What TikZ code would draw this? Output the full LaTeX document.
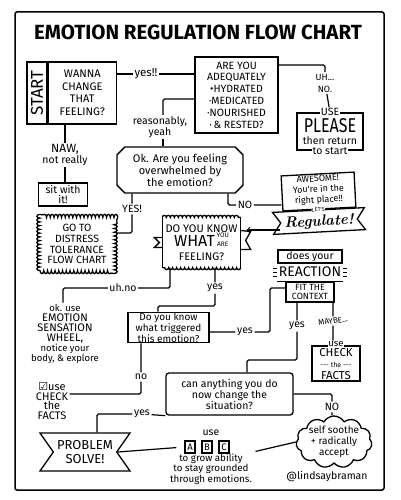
\documentclass[tikz,border=0pt]{standalone}
\usepackage{fontspec}
\newfontfamily\hand{Fira Sans}
\newfontfamily\symfont{DejaVu Sans}
\usetikzlibrary{shapes.misc,shapes.symbols,decorations.pathmorphing}

\begin{document}
\begin{tikzpicture}[x=1pt,y=-1pt,
    box/.style={draw, line width=1.3pt, align=center, inner sep=0.5pt,
      font=\hand\fontsize{10.5}{11.5}\selectfont},
    lbl/.style={inner sep=1.5pt, align=center, font=\hand\fontsize{10.5}{10.5}\selectfont},
    conn/.style={line width=1.2pt, rounded corners=1.5pt},
    scallop/.style={line width=1.3pt, decorate, decoration={bumps, segment length=8pt, amplitude=2pt}},
    puffy/.style={box, cloud, cloud ignores aspect, cloud puffs=11, cloud puff arc=120},
    banner/.style={box, signal, signal from=west and east, signal to=nowhere,
      signal pointer angle=110}]
    \useasboundingbox (0,0) rectangle (400,500);
    \draw[line width=1.5pt, rounded corners=2pt] (15,12) rectangle (384,490);
    \node[font=\hand\bfseries\fontsize{20.5}{20.5}\selectfont] (title) at (198,32) {EMOTION REGULATION FLOW CHART};

    % start
    \node[box, minimum width=20pt, minimum height=62pt, font=\hand\fontsize{17}{17}\selectfont] (start) at (37,93) {\rotatebox{90}{START}};
    \node[box, minimum width=68pt, minimum height=62pt, anchor=west, font=\hand\fontsize{11}{12.5}\selectfont] (wanna) at (start.east) {WANNA\\CHANGE\\THAT\\FEELING?};
    \node[lbl, font=\hand\fontsize{11.5}{11}\selectfont] (yes1) at (146,74) {yes!!};
    \node[box, minimum width=83pt, minimum height=76pt, font=\hand\fontsize{10.5}{11.8}\selectfont] (adeq) at (236.5,95) {ARE YOU\\ADEQUATELY\\•HYDRATED\\·MEDICATED\\·NOURISHED\\·\,\& RESTED?};
    \draw[conn] (wanna.east |- yes1) -- (yes1) -- (yes1 -| adeq.west);

    % uh no
    \node[lbl, font=\hand\fontsize{9}{12}\selectfont] (uhno) at (325,83) {UH...\\NO.};
    \coordinate (c1) at (325,65);
    \draw[conn] (adeq.east |- c1) -- (c1) -- (uhno);
    \node[box, minimum width=66pt, minimum height=37pt, inner sep=0pt] (please) at (330,131.5) {\scalebox{0.8}[1]{\fontsize{20}{20}\selectfont PLEASE}\\then return};
    \node[lbl, fill=white, inner sep=1pt] (use1) at (please.north) {USE};
    \node[lbl, fill=white, inner sep=1pt] (tostart) at (please.south) {to start};
    \draw[conn] (uhno) -- (use1);

    % reasonably
    \node[lbl] (reason) at (160,127) {reasonably,\\yeah};
    \node[box, chamfered rectangle, chamfered rectangle xsep=5pt, minimum width=126pt, minimum height=46pt, font=\hand\fontsize{11}{12}\selectfont] (ok) at (180,170) {Ok. Are you feeling\\overwhelmed by\\the emotion?};
    \coordinate (c2) at (163,99);
    \draw[conn] (adeq.west |- c2) -- (c2) -- (c2 |- reason.north);
    \draw[conn] (c2 |- reason.south) -- (c2 |- ok.north);

    % naw
    \node[lbl] (naw) at (65,155) {{\fontsize{12}{12}\selectfont NAW,}\\not really};
    \node[box, minimum width=49pt, minimum height=23pt, font=\hand\fontsize{10.5}{10}\selectfont] (sit) at (63,194.5) {sit with\\it!};
    \draw[conn] (wanna.south -| naw) -- (naw) -- (naw |- sit.north);

    % yes -> distress
    \node[lbl] (yes2) at (132,209) {YES!};
    \node[box, draw=none, minimum width=73pt, minimum height=52pt, inner sep=0pt, font=\hand\fontsize{10.5}{10.8}\selectfont] (distress) at (77,244) {GO TO\\DISTRESS\\TOLERANCE\\FLOW CHART};
    \draw[scallop, decoration={segment length=7.5pt, amplitude=3pt}] (distress.south west) -- (distress.north west) -- (distress.north east) -- (distress.south east) -- cycle;
    \coordinate (c3) at (132,233);
    \draw[conn] (ok.south -| yes2) -- (yes2) -- (c3) -- ([xshift=3pt]c3 -| distress.east);

    % no -> awesome
    \node[lbl] (no1) at (245,205) {NO};
    \node[box, rotate=3, minimum width=73pt, minimum height=35pt, text depth=5pt, font=\hand\fontsize{9}{10.5}\selectfont] (awesome) at (318.5,191.5) {AWESOME!\\You're in the\\right place!!};
    \node[banner, rotate=3, minimum width=92pt, minimum height=22pt, text height=13pt, font=\rmfamily\itshape\bfseries\fontsize{15}{15}\selectfont] (regulate) at (319,221) {Regulate!};
    \node[lbl, rotate=3, fill=white, inner sep=0.3pt, font=\hand\fontsize{5.5}{5.5}\selectfont] (lets) at ([yshift=-0.5pt]regulate.north) {LET'S};
    \coordinate (c4) at (228,205);
    \draw[conn] (ok.south -| c4) -- (c4) -- (no1) -- (no1 -| awesome.west);

    % what
    \node[box, draw=none, minimum width=77pt, minimum height=49pt, font=\hand\fontsize{11}{14}\selectfont] (what) at (201.5,242.5) {DO YOU KNOW\\{\fontsize{16}{16}\selectfont WHAT}\,{\fontsize{6.5}{6.5}\selectfont\shortstack{YOU\\[1pt]ARE}}\\FEELING?};
    \draw[line width=1.3pt] (what.north west) -- (what.south west) (what.north east) -- (what.south east);
    \draw[scallop] (what.north west) -- (what.north east);
    \draw[scallop] (what.south east) -- (what.south west);
    \draw[line width=1.3pt] ([yshift=5pt]what.west) -- ++(-8,0) -- ++(5,5) -- ++(-5,5) -- ++(8,0);
    \draw[line width=1.3pt] ([yshift=12pt]what.east) -- ++(10,1) -- ++(-5,9) -- ++(5,9) -- ++(-10,0);
    \coordinate (wflag) at ([xshift=6pt]what.east);
    \draw[conn, ->] ([yshift=-7pt]regulate.west) -- ([yshift=-7pt]regulate.west -| wflag);

    % uh no -> wheel
    \node[lbl] (uhno2) at (123,288) {uh.no};
    \node[lbl, font=\hand\fontsize{9.5}{10}\selectfont] (wheel) at (65,334) {ok. use\\{\fontsize{11}{10}\selectfont EMOTION}\\{\fontsize{11}{10}\selectfont SENSATION}\\{\fontsize{11}{10}\selectfont WHEEL,}\\notice your\\body, \& explore};
    \coordinate (c5) at (170,288);
    \coordinate (c6) at (63,288);
    \draw[conn] (what.south -| c5) -- (c5) -- (uhno2) -- (c6) -- (c6 |- wheel.north);

    % yes -> triggered
    \node[lbl] (yes3) at (215,288) {yes};
    \node[box, minimum width=81pt, minimum height=29pt, font=\hand\fontsize{10}{9.8}\selectfont] (trig) at (168.5,327.5) {Do you know\\what triggered\\this emotion?};
    \coordinate (c7) at (215,306);
    \coordinate (c8) at (158,306);
    \draw[conn] (what.south -| yes3) -- (yes3) -- (c7) -- (c8) -- (c8 |- trig.north);

    % reaction
    \node[box, minimum width=64pt, minimum height=13pt, inner sep=0pt] (does) at (310,256.5) {does your};
    \node[lbl, minimum width=66pt, minimum height=18pt, inner sep=0pt, font=\hand\fontsize{14}{14}\selectfont] (reaction) at (310,272) {REACTION};
    \draw[line width=1.3pt] (reaction.south west) -- (reaction.south east);
    \foreach \dy in {-4,0,4} {
        \draw[line width=0.8pt] ([yshift=\dy pt]reaction.west) -- ++(-4,0);
        \draw[line width=0.8pt] ([yshift=\dy pt]reaction.east) -- ++(4,0);
    }
    \node[box, minimum width=48pt, minimum height=20pt, inner sep=0pt, anchor=north, font=\hand\fontsize{9}{9.5}\selectfont] (fit) at (reaction.south) {FIT THE\\CONTEXT};
    \node[lbl] (yes4) at (245,332) {yes};
    \coordinate (c9) at (270,332);
    \coordinate (c10) at (270,288);
    \draw[conn] (trig.east |- yes4) -- (yes4) -- (c9) -- (c10) -- (c10 -| fit.west);

    % maybe -> check
    \node[lbl, rotate=8, font=\hand\fontsize{8}{8}\selectfont] (maybe) at (333,321) {MAYBE...};
    \node[box, minimum width=48pt, minimum height=35pt, inner sep=0pt, text depth=0pt] (checkR) at (336,363.5) {{\fontsize{11.5}{12}\selectfont CHECK}\\{\fontsize{7}{8}\selectfont --- the ---}\\{\fontsize{11.5}{11}\selectfont FACTS}};
    \node[lbl, fill=white, inner sep=0.3pt, font=\hand\fontsize{9.5}{9.5}\selectfont] (use2) at ([yshift=1.5pt]checkR.north) {use};
    \draw[conn] (fit.south -| maybe) -- (maybe) -- (maybe |- use2.north);

    % no -> check left
    \node[lbl] (no2) at (141,377) {no};
    \node[lbl, font=\hand\fontsize{11}{9.5}\selectfont] (checkL) at (52,401) {{\symfont ☑}use\\CHECK\\the\\FACTS};
    \coordinate (c14) at (141,394);
    \draw[conn] (trig.south -| no2) -- (no2) -- (c14) -- (c14 -| checkL.east);

    % yes -> can anything
    \node[lbl] (yes5) at (297,326) {yes};
    \node[box, rounded corners=3pt, minimum width=127pt, minimum height=42pt, font=\hand\fontsize{10.5}{11}\selectfont] (can) at (229.5,394) {can anything you do\\now change the\\situation?};
    \coordinate (c11) at (297,360);
    \coordinate (c12) at (247,360);
    \draw[conn] (fit.south -| yes5) -- (yes5) -- (c11) -- (c12) -- (c12 |- can.north);

    % problem solve
    \node[lbl] (yes6) at (142,414) {yes};
    \node[banner, minimum width=90pt, minimum height=38pt, font=\hand\fontsize{13}{14}\selectfont] (problem) at (85,452) {PROBLEM\\SOLVE!};
    \coordinate (c15) at (97,414);
    \draw[conn] (can.south west) -- (yes6) -- (c15) -- (c15 |- problem.north);

    % self soothe
    \node[lbl] (no3) at (332,407) {NO};
    \node[puffy, inner xsep=-6pt, inner ysep=-7pt, minimum width=76pt, minimum height=52pt, font=\hand\fontsize{10}{11}\selectfont] (soothe) at (334,442) {self soothe\\+ radically\\accept};
    \coordinate (c16) at (332,394);
    \draw[conn] (can.east) -- (c16) -- (no3) -- (no3 |- soothe.north);

    % abc
    \node[lbl] (use3) at (211,433) {use};
    \node[box, minimum width=10pt, minimum height=12pt, inner sep=0.5pt, font=\hand\fontsize{9.5}{9.5}\selectfont] (a) at (190,447) {A};
    \node[box, minimum width=10pt, minimum height=12pt, inner sep=0.5pt, font=\hand\fontsize{9.5}{9.5}\selectfont] (b) at (207,447) {B};
    \node[box, minimum width=10pt, minimum height=12pt, inner sep=0.5pt, font=\hand\fontsize{9.5}{9.5}\selectfont] (c) at (224,447) {C};
    \node[lbl, font=\hand\fontsize{9.8}{8.5}\selectfont] (grow) at (211,469) {to grow ability\\to stay grounded\\through emotions.};
    \draw[conn, shorten >=8pt] (problem.east) -- (a.west);
    \draw[conn, shorten <=2pt] (grow.north east) -- (soothe.west);

    \node[font=\hand\fontsize{10.5}{10.5}\selectfont] (credit) at (327,477) {@lindsaybraman};
\end{tikzpicture}
\end{document}
